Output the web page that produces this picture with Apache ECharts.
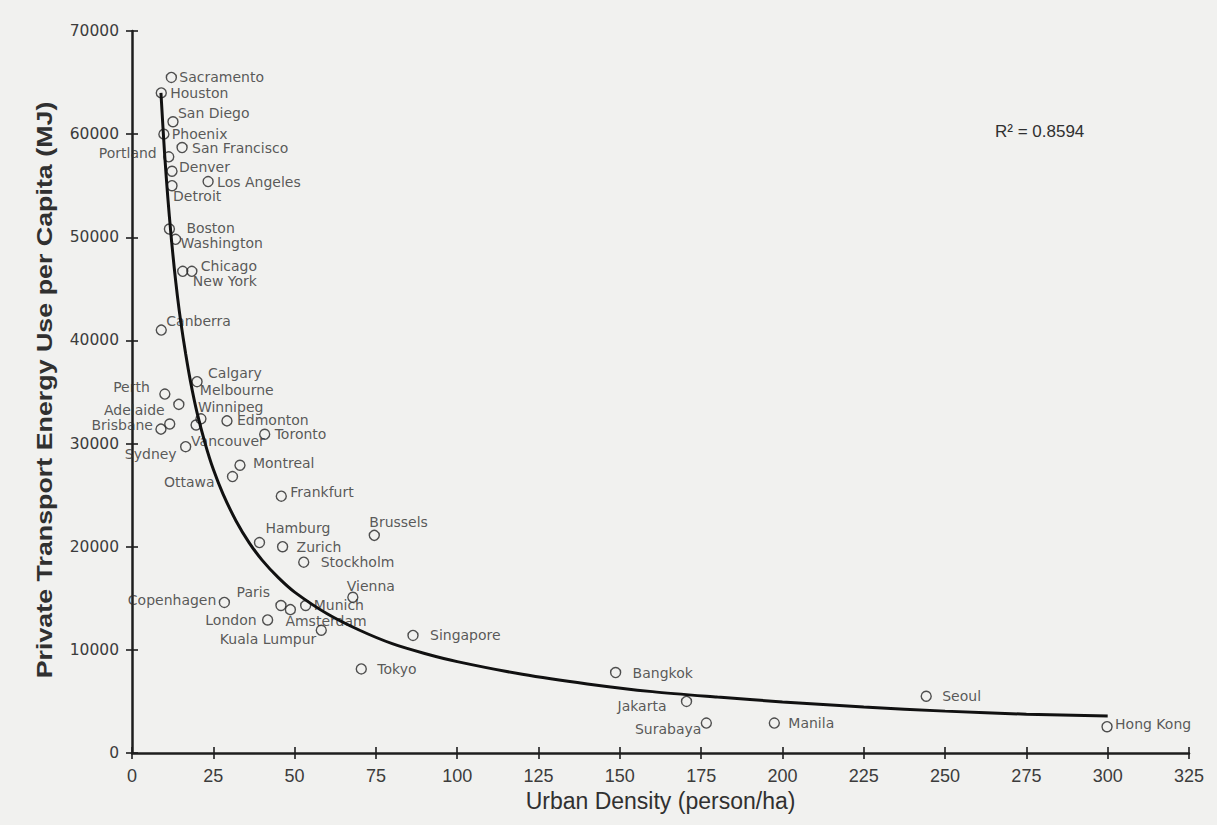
<!DOCTYPE html>
<html><head><meta charset="utf-8">
<script src="https://cdn.jsdelivr.net/npm/echarts@6/dist/echarts.min.js"></script>
<style>html,body{margin:0;padding:0;background:#f1f1ef}#chart{width:1217px;height:825px}</style>
</head><body><div id="chart"></div>
<script>
// ---- data ----
const cities = ['Sacramento','Houston','San Diego','Phoenix','San Francisco','Portland','Denver','Los Angeles','Detroit','Boston','Washington','Chicago','New York','Canberra','Calgary','Perth','Melbourne','Winnipeg','Edmonton','Adelaide','Brisbane','Vancouver','Toronto','Sydney','Montreal','Ottawa','Frankfurt','Hamburg','Brussels','Zurich','Stockholm','Vienna','Copenhagen','Paris','Amsterdam','Munich','London','Kuala Lumpur','Singapore','Tokyo','Bangkok','Jakarta','Surabaya','Manila','Seoul','Hong Kong'];
const density = [12.1,9.0,12.6,9.8,15.4,11.3,12.3,23.4,12.3,11.5,13.4,15.6,18.4,9.0,20.0,10.1,14.4,21.2,29.2,11.6,8.9,19.7,40.8,16.5,33.2,30.9,45.9,39.2,74.5,46.3,52.8,67.9,28.4,45.8,48.7,53.4,41.7,58.2,86.4,70.5,148.7,170.5,176.6,197.5,244.2,299.8];
const energy = [65500,64000,61200,60000,58700,57800,56400,55400,55000,50800,49800,46700,46700,41000,36000,34800,33800,32400,32200,31900,31400,31800,30900,29700,27900,26800,24900,20400,21100,20000,18500,15100,14600,14300,13900,14300,12900,11900,11400,8150,7800,5000,2900,2900,5500,2550];
// fitted curve, points
const curveDensity = [8.9,10,11,12,13,14,15,16.5,18,20,22.5,25,28,32,36,40,45,50,60,70,80,90,100,120,140,160,180,200,225,250,275,300];
const curveEnergy = [64000,58200,53900,50200,47000,44200,41800,38700,36000,33000,30000,27500,25100,22500,20400,18700,17000,15600,13500,11900,10600,9650,8860,7630,6700,5950,5420,4950,4460,4060,3760,3580];
const xTitle = 'Urban Density (person/ha)';
const yTitle = 'Private Transport Energy Use per Capita (MJ)';
const r2Text = 'R² = 0.8594';

// ---- label layout (offset from point centre) ----
const labelLayout = {
 'Sacramento':[8,0,'left'],'Houston':[9,0,'left'],'San Diego':[5,-9,'left'],'Phoenix':[8,0,'left'],
 'San Francisco':[10,0,'left'],'Portland':[-12,-4,'right'],'Denver':[7,-4,'left'],'Los Angeles':[9,0,'left'],
 'Detroit':[1,10,'left'],'Boston':[17,-1,'left'],'Washington':[5,4,'left'],'Chicago':[18,-5,'left'],
 'New York':[1,10,'left'],'Canberra':[5,-9,'left'],'Calgary':[11,-9,'left'],'Perth':[-15,-7,'right'],
 'Melbourne':[21,-14,'left'],'Winnipeg':[-3,-12,'left'],'Edmonton':[10,-1,'left'],'Adelaide':[-5,-14,'right'],
 'Brisbane':[-8,-4,'right'],'Vancouver':[-5,16,'left'],'Toronto':[10,0,'left'],'Sydney':[-9,7,'right'],
 'Montreal':[13,-2,'left'],'Ottawa':[-18,5,'right'],'Frankfurt':[9,-4,'left'],'Hamburg':[6,-15,'left'],
 'Brussels':[-5,-13,'left'],'Zurich':[14,0,'left'],'Stockholm':[17,0,'left'],'Vienna':[-6,-11,'left'],
 'Copenhagen':[-8,-2,'right'],'Paris':[-11,-14,'right'],'Amsterdam':[-5,11,'left'],'Munich':[8,-1,'left'],
 'London':[-11,0,'right'],'Kuala Lumpur':[-5,9,'right'],'Singapore':[17,0,'left'],'Tokyo':[16,0,'left'],
 'Bangkok':[17,0,'left'],'Jakarta':[-20,5,'right'],'Surabaya':[-5,6,'right'],'Manila':[14,0,'left'],
 'Seoul':[16,0,'left'],'Hong Kong':[8,-3,'left']
};

const ink = '#1e1e1e';
const txt = '#303030';
const chart = echarts.init(document.getElementById('chart'), null, {renderer:'svg'});

const pts = cities.map((c,i)=>{
  const L = labelLayout[c];
  return {name:c, value:[density[i], energy[i]],
    label:{show:true, position:'inside', align:L[2], verticalAlign:'middle', offset:[L[0],L[1]], formatter:c}};
});
const curve = curveDensity.map((x,i)=>[x, curveEnergy[i]]);

function xAx(inside, main){
  return {type:'value', min:0, max:325, interval:25, position:'bottom',
    axisLine:{show:main, onZero:false, lineStyle:{color:ink, width:2.5}},
    axisTick:{show:true, inside:inside, length:6, lineStyle:{color:ink, width:1.6}},
    axisLabel:{show:main, margin:14, color:'#3c3c3c', fontSize:18, fontFamily:'Liberation Sans'},
    splitLine:{show:false},
    name: main ? xTitle : '', nameLocation:'middle', nameGap:32,
    nameTextStyle:{fontSize:23, color:txt, fontFamily:'Liberation Sans'}};
}
function yAx(inside, main){
  return {type:'value', min:0, max:70000, interval:10000, position:'left',
    axisLine:{show:main, onZero:false, lineStyle:{color:ink, width:2.5}},
    axisTick:{show:true, inside:inside, length:6, lineStyle:{color:ink, width:1.6}},
    axisLabel:{show:main, margin:13, color:'#3c3c3c', fontSize:15.5, fontFamily:'DejaVu Sans',
      formatter:(v)=>String(v)},
    splitLine:{show:false}};
}

chart.setOption({
  backgroundColor:'#f1f1ef',
  animation:false,
  grid:{left:132, right:28, top:31, bottom:72, containLabel:false},
  xAxis:[xAx(false,true), xAx(true,false)],
  yAxis:[yAx(false,true), yAx(true,false)],
  graphic:[
    {type:'text', x:44, y:390, rotation:Math.PI/2, scaleX:1.22, scaleY:1,
      style:{text:yTitle, font:'bold 22px "Liberation Sans"', fill:txt, align:'center', verticalAlign:'middle'}},
    {type:'text', x:995, y:131,
      style:{text:r2Text, font:'17px "Liberation Sans"', fill:txt, align:'left', verticalAlign:'middle'}}
  ],
  series:[
    {type:'scatter', xAxisIndex:0, yAxisIndex:0, symbol:'circle', symbolSize:10,
      itemStyle:{color:'rgba(0,0,0,0)', borderColor:'#262626', borderWidth:1.4},
      label:{fontSize:14, fontFamily:'DejaVu Sans', color:txt},
      emphasis:{disabled:true},
      data:pts, z:2},
    {type:'line', xAxisIndex:0, yAxisIndex:0, data:curve, smooth:0.3, showSymbol:false,
      lineStyle:{color:'#111', width:3}, z:3, emphasis:{disabled:true}}
  ]
});
</script></body></html>
